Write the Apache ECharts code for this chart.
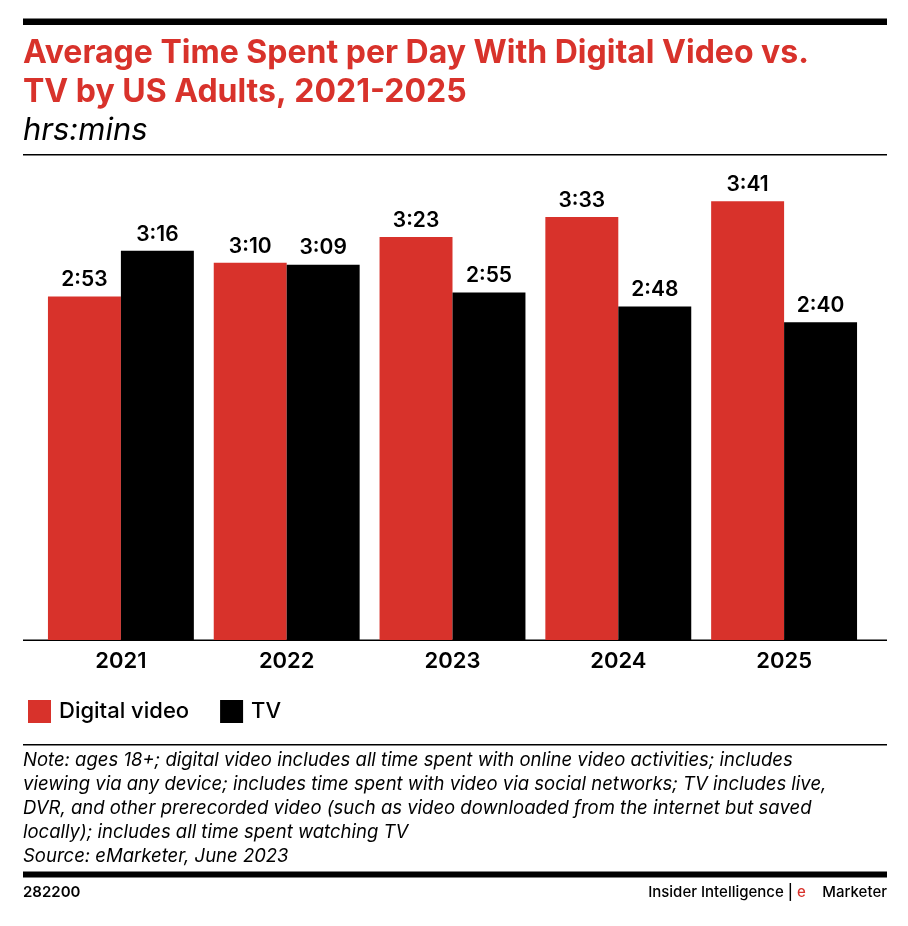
<!DOCTYPE html>
<html>
<head>
<meta charset="utf-8">
<style>
  html, body { margin: 0; padding: 0; background: #fff; }
  #main { width: 908px; height: 926px; }
</style>
<script src="https://cdn.jsdelivr.net/npm/echarts@6/dist/echarts.min.js"></script>
</head>
<body>
<div id="main"></div>
<script>
var years = ['2021', '2022', '2023', '2024', '2025'];
// minutes per day, shown as h:mm
var digitalVideo = [173, 190, 203, 213, 221];
var tv = [196, 189, 175, 168, 160];
var titleLines = ['Average Time Spent per Day With Digital Video vs.', 'TV by US Adults, 2021-2025'];
var noteLines = [
  'Note: ages 18+; digital video includes all time spent with online video activities; includes',
  'viewing via any device; includes time spent with video via social networks; TV includes live,',
  'DVR, and other prerecorded video (such as video downloaded from the internet but saved',
  'locally); includes all time spent watching TV',
  'Source: eMarketer, June 2023'
];

var RED = '#d8322b';
var FONT = 'Inter';

function hhmm(min) {
  var m = min % 60;
  return Math.floor(min / 60) + ':' + (m < 10 ? '0' + m : m);
}

function textEl(str, x, y, size, weight, style, color, align) {
  return {
    type: 'text', x: x, y: y, silent: true,
    style: {
      text: str, fill: color || '#000', font: (style || 'normal') + ' ' + weight + ' ' + size + 'px ' + FONT,
      textAlign: align || 'left', textVerticalAlign: 'middle'
    }
  };
}

function ruleEl(y, h) {
  return { type: 'rect', silent: true, shape: { x: 23, y: y, width: 864, height: h }, style: { fill: '#000' } };
}

var graphics = [
  ruleEl(18.5, 6.5),
  textEl(titleLines[0], 23, 53, 32, 700, 'normal', RED),
  textEl(titleLines[1], 23, 92, 32, 700, 'normal', RED),
  textEl('hrs:mins', 23, 131, 31, 400, 'italic'),
  ruleEl(154, 1.5),
  ruleEl(639.5, 1.5),
  ruleEl(744, 1.5),
  ruleEl(871.5, 6),
  textEl('282200', 23, 892, 15, 600),
  textEl('Insider Intelligence | ', 797, 892, 15, 500, 'normal', '#000', 'right'),
  textEl('e', 797, 892, 15, 500, 'normal', RED),
  textEl('Marketer', 887, 892, 15, 500, 'normal', '#000', 'right')
];
noteLines.forEach(function (line, i) {
  graphics.push(textEl(line, 23, 760 + i * 24, 18.5, 400, 'italic'));
});

var chartDom = document.getElementById('main');
var myChart = echarts.init(chartDom);
var option = {
  animation: false,
  textStyle: { fontFamily: FONT },
  grid: { left: 38, right: 41, top: 163.4, height: 476.6 },
  legend: {
    left: 23, top: 695, itemWidth: 23, itemHeight: 23, itemGap: 31,
    icon: 'rect', selectedMode: false,
    textStyle: { color: '#000', fontSize: 22, fontWeight: 500, fontFamily: FONT, padding: [0, 0, 0, 3] }
  },
  xAxis: {
    type: 'category',
    data: years,
    axisTick: { show: false },
    axisLine: { show: false },
    axisLabel: { color: '#000', fontSize: 22, fontWeight: 600, margin: 10 }
  },
  yAxis: { type: 'value', min: 0, max: 240, show: false },
  series: [
    {
      name: 'Digital video', type: 'bar', data: digitalVideo, barGap: 0, barCategoryGap: '12%',
      itemStyle: { color: RED },
      label: { show: true, position: 'top', distance: 6, color: '#000', fontSize: 21, fontWeight: 600, formatter: function (p) { return hhmm(p.value); } }
    },
    {
      name: 'TV', type: 'bar', data: tv,
      itemStyle: { color: '#000' },
      label: { show: true, position: 'top', distance: 6, color: '#000', fontSize: 21, fontWeight: 600, formatter: function (p) { return hhmm(p.value); } }
    }
  ],
  graphic: graphics
};
myChart.setOption(option);
</script>
</body>
</html>
